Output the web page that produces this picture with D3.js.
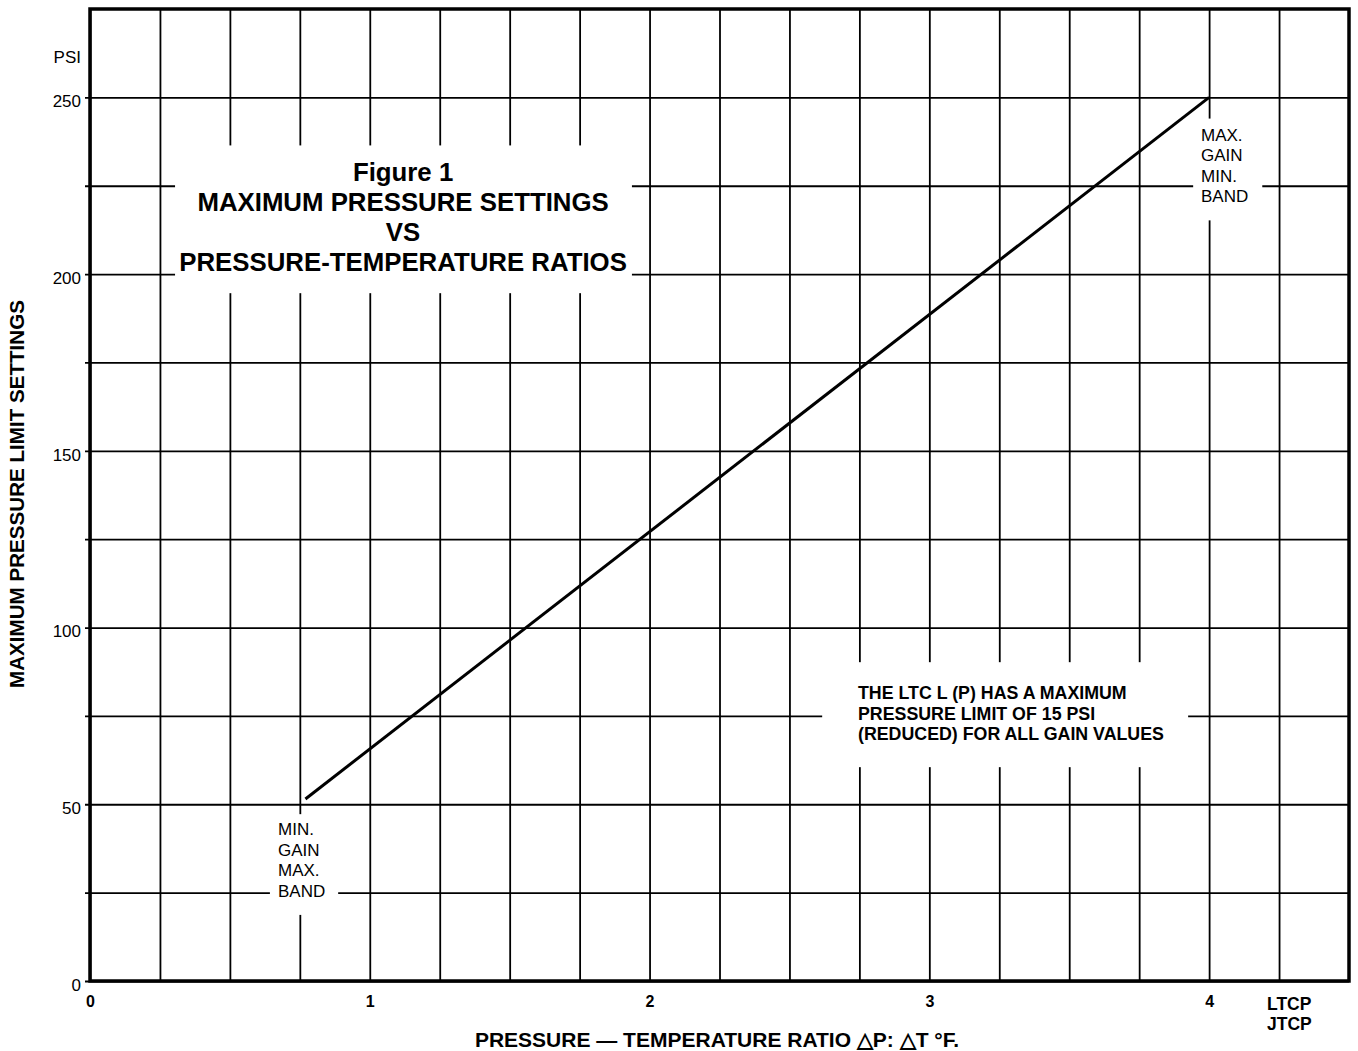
<!DOCTYPE html>
<html>
<head>
<meta charset="utf-8">
<script src="https://cdn.jsdelivr.net/npm/d3@7"></script>
<style>
  body { margin: 0; background: #fff; }
  text { font-family: "Liberation Sans", Arial, sans-serif; fill: #000; }
</style>
</head>
<body>
<div id="chart"></div>
<script>
// data
const ratioValues = [0.77, 4.0];     // pressure-temperature ratio
const psiValues = [51.5, 250];       // max pressure limit setting (psi)
const xGridTicks = d3.range(0, 4.5, 0.25);
const xLabelTicks = [0, 1, 2, 3, 4];
const yGridTicks = d3.range(0, 275, 25);
const yLabelTicks = [0, 50, 100, 150, 200, 250];
const titleLines = ["Figure 1", "MAXIMUM PRESSURE SETTINGS", "VS", "PRESSURE-TEMPERATURE RATIOS"];
const noteLines = ["THE LTC L (P) HAS A MAXIMUM", "PRESSURE LIMIT OF 15 PSI", "(REDUCED) FOR ALL GAIN VALUES"];
const topLabel = ["MAX.", "GAIN", "MIN.", "BAND"];
const bottomLabel = ["MIN.", "GAIN", "MAX.", "BAND"];

// plot design
const FRAME_WIDTH = 1358;
const FRAME_HEIGHT = 1051;
const MARGINS = {left: 90, right: 9, top: 9, bottom: 70};
const VIS_WIDTH = FRAME_WIDTH - MARGINS.left - MARGINS.right;
const VIS_HEIGHT = FRAME_HEIGHT - MARGINS.top - MARGINS.bottom;

const xScale = d3.scaleLinear().domain([0, 4.5]).range([MARGINS.left, MARGINS.left + VIS_WIDTH]);
const yScale = d3.scaleLinear().domain([0, 275]).range([MARGINS.top + VIS_HEIGHT, MARGINS.top]);

const svg = d3.select("#chart").append("svg")
  .attr("width", FRAME_WIDTH)
  .attr("height", FRAME_HEIGHT);

// horizontal grid (axis hung from the right edge so lines poke 5px out the left)
const yAxis = svg.append("g")
  .attr("transform", "translate(" + xScale(4.5) + ",0)")
  .call(d3.axisLeft(yScale)
    .tickValues(yGridTicks)
    .tickSize(xScale(4.5) - xScale(0) + 5)
    .tickPadding(4)
    .tickFormat(d => yLabelTicks.includes(d) ? d : ""));
yAxis.select(".domain").remove();
yAxis.selectAll("line").attr("stroke", "#000").attr("stroke-width", 1.8);
yAxis.selectAll("text")
  .attr("font-size", "17px")
  .attr("dy", "0.55em")
  .style("font-family", "'Liberation Sans', Arial, sans-serif");

// vertical grid
const xAxis = svg.append("g")
  .attr("transform", "translate(0," + yScale(0) + ")")
  .call(d3.axisBottom(xScale)
    .tickValues(xGridTicks)
    .tickSize(-(yScale(0) - yScale(275)))
    .tickPadding(15)
    .tickFormat(d => xLabelTicks.includes(d) ? d : ""));
xAxis.select(".domain").remove();
xAxis.selectAll("line").attr("stroke", "#000").attr("stroke-width", 1.8);
xAxis.selectAll("text")
  .attr("font-size", "16px")
  .attr("font-weight", "bold")
  .style("font-family", "'Liberation Sans', Arial, sans-serif");

// white boxes that break the grid behind the annotations
const boxes = [
  {x0: 0.304, x1: 1.937, y0: 194.6, y1: 236.4},
  {x0: 3.943, x1: 4.19, y0: 215.2, y1: 244},
  {x0: 0.643, x1: 0.887, y0: 18.7, y1: 47.2},
  {x0: 2.617, x1: 3.925, y0: 60.5, y1: 90.2}
];
svg.selectAll(".gap").data(boxes).enter().append("rect")
  .attr("x", d => xScale(d.x0))
  .attr("y", d => yScale(d.y1))
  .attr("width", d => xScale(d.x1) - xScale(d.x0))
  .attr("height", d => yScale(d.y0) - yScale(d.y1))
  .attr("fill", "#fff");

// frame
svg.append("rect")
  .attr("x", xScale(0))
  .attr("y", yScale(275))
  .attr("width", xScale(4.5) - xScale(0))
  .attr("height", yScale(0) - yScale(275))
  .attr("fill", "none")
  .attr("stroke", "#000")
  .attr("stroke-width", 3.5);

// the line
svg.append("path")
  .datum(d3.zip(ratioValues, psiValues))
  .attr("d", d3.line().x(d => xScale(d[0])).y(d => yScale(d[1])))
  .attr("fill", "none")
  .attr("stroke", "#000")
  .attr("stroke-width", 3);

// title block
svg.append("text")
  .attr("text-anchor", "middle")
  .attr("font-size", "25.8px")
  .attr("font-weight", "bold")
  .selectAll("tspan").data(titleLines).enter().append("tspan")
    .attr("x", xScale(1.119))
    .attr("y", (d, i) => 181 + i * 30)
    .text(d => d);

// note block
svg.append("text")
  .attr("font-size", "17.8px")
  .attr("font-weight", "bold")
  .selectAll("tspan").data(noteLines).enter().append("tspan")
    .attr("x", 858)
    .attr("y", (d, i) => 699 + i * 20.5)
    .text(d => d);

// end labels
svg.append("text")
  .attr("font-size", "17px")
  .selectAll("tspan").data(topLabel).enter().append("tspan")
    .attr("x", 1201)
    .attr("y", (d, i) => 141 + i * 20.3)
    .text(d => d);

svg.append("text")
  .attr("font-size", "17px")
  .selectAll("tspan").data(bottomLabel).enter().append("tspan")
    .attr("x", 278)
    .attr("y", (d, i) => 835 + i * 20.5)
    .text(d => d);

// axis titles
svg.append("text")
  .attr("x", 81).attr("y", 63)
  .attr("text-anchor", "end")
  .attr("font-size", "17px")
  .text("PSI");

svg.append("text")
  .attr("font-size", "17.5px")
  .attr("font-weight", "bold")
  .selectAll("tspan").data(["LTCP", "JTCP"]).enter().append("tspan")
    .attr("x", 1267)
    .attr("y", (d, i) => 1010 + i * 20)
    .text(d => d);

svg.append("text")
  .attr("x", 717).attr("y", 1047)
  .attr("text-anchor", "middle")
  .attr("font-size", "21px")
  .attr("font-weight", "bold")
  .text("PRESSURE \u2014 TEMPERATURE RATIO \u25B3P: \u25B3T \u00B0F.");

svg.append("text")
  .attr("transform", "translate(24,494) rotate(-90)")
  .attr("text-anchor", "middle")
  .attr("font-size", "20.6px")
  .attr("font-weight", "bold")
  .text("MAXIMUM PRESSURE LIMIT SETTINGS");
</script>
</body>
</html>
